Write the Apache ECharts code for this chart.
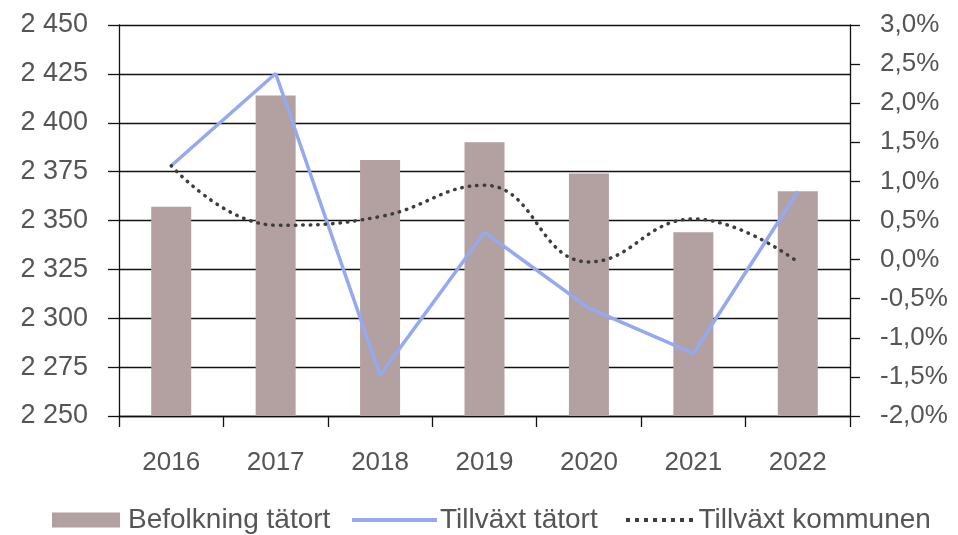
<!DOCTYPE html>
<html>
<head>
<meta charset="utf-8">
<script src="https://cdn.jsdelivr.net/npm/echarts@6/dist/echarts.min.js"></script>
<style>
  html, body { margin: 0; padding: 0; background: #fff; }
  #chart { width: 958px; height: 535px; }
</style>
</head>
<body>
<div id="chart"></div>
<script>
// Years on the category axis
const years = ['2016', '2017', '2018', '2019', '2020', '2021', '2022'];
// Population of the urban area (left axis)
const befolkningTatort = [2357, 2414, 2381, 2390, 2374, 2344, 2365];
// Annual growth, urban area, in percent (right axis)
const tillvaxtTatort = [1.2, 2.38, -1.48, 0.35, -0.62, -1.2, 0.87];
// Annual growth, whole municipality, in percent (right axis)
const tillvaxtKommunen = [1.2, 0.44, 0.55, 0.95, -0.03, 0.52, -0.03];

const FONT = '"Liberation Sans", Arial, sans-serif';
const TXT = '#555';
const BLACK = '#111';
const BAR = '#b3a0a0';
const BLUE = '#94a9f0';
const DOT = '#3d3d3d';

const fmtThousands = v => String(v).replace(/\B(?=(\d{3})+(?!\d))/g, ' ');
const fmtPct = v => v.toFixed(1).replace('.', ',') + '%';

// Legend icon for the dotted series: a row of eight dots
const dotRow = 'path://' + Array.from({ length: 8 }, (_, i) =>
  `M${i * 9},0h4v4h-4z`).join('');

const chart = echarts.init(document.getElementById('chart'));

const legendBase = {
  top: 506,
  padding: 0,
  itemGap: 0,
  selectedMode: false
};
const legendText = pad => ({ fontFamily: FONT, fontSize: 28, color: TXT, padding: [0, 0, 0, pad] });

chart.setOption({
  animation: false,
  grid: { left: 119, right: 108, top: 25, bottom: 119 },
  legend: [
    Object.assign({}, legendBase, {
      left: 52, itemWidth: 68, itemHeight: 15, textStyle: legendText(3),
      data: [{ name: 'Befolkning tätort', icon: 'rect' }]
    }),
    Object.assign({}, legendBase, {
      left: 352, itemWidth: 85, itemHeight: 4, textStyle: legendText(-2),
      data: [{ name: 'Tillväxt tätort', icon: 'rect' }]
    }),
    Object.assign({}, legendBase, {
      left: 626, itemWidth: 70, itemHeight: 4, textStyle: legendText(-1),
      data: [{ name: 'Tillväxt kommunen', icon: dotRow }]
    })
  ],
  xAxis: {
    type: 'category',
    data: years,
    boundaryGap: true,
    axisLine: { onZero: false, lineStyle: { color: BLACK, width: 1.3 } },
    axisTick: { show: true, alignWithLabel: false, length: 11, lineStyle: { color: BLACK, width: 1.3 } },
    axisLabel: { margin: 34, fontFamily: FONT, fontSize: 26, color: TXT }
  },
  yAxis: [
    {
      type: 'value',
      min: 2250, max: 2450, interval: 25,
      axisLine: { show: true, lineStyle: { color: BLACK, width: 1.3 } },
      axisTick: { show: true, length: 11, lineStyle: { color: BLACK, width: 1.3 } },
      splitLine: { show: true, lineStyle: { color: BLACK, width: 1.3 } },
      axisLabel: { margin: 31, fontFamily: FONT, fontSize: 27, color: TXT, formatter: fmtThousands }
    },
    {
      type: 'value',
      min: -2, max: 3, interval: 0.5,
      position: 'right',
      axisLine: { show: true, lineStyle: { color: BLACK, width: 1.3 } },
      axisTick: { show: true, length: 10, lineStyle: { color: BLACK, width: 1.3 } },
      splitLine: { show: false },
      axisLabel: { margin: 30, fontFamily: FONT, fontSize: 26, color: TXT, formatter: fmtPct }
    }
  ],
  series: [
    {
      name: 'Befolkning tätort',
      type: 'bar',
      yAxisIndex: 0,
      data: befolkningTatort,
      barWidth: 40,
      itemStyle: { color: BAR },
      z: 2
    },
    {
      name: 'Tillväxt tätort',
      type: 'line',
      yAxisIndex: 1,
      data: tillvaxtTatort,
      symbol: 'none',
      lineStyle: { color: BLUE, width: 3.5 },
      itemStyle: { color: BLUE },
      z: 3
    },
    {
      name: 'Tillväxt kommunen',
      type: 'line',
      yAxisIndex: 1,
      data: tillvaxtKommunen,
      symbol: 'none',
      smooth: 0.45,
      lineStyle: { color: DOT, width: 3.5, type: [0.5, 7], cap: 'round' },
      itemStyle: { color: DOT },
      z: 4
    }
  ]
});
</script>
</body>
</html>
